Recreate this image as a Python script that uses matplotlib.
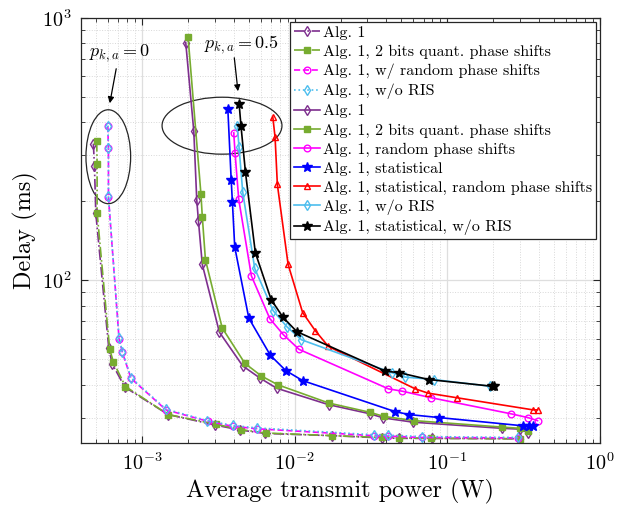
import matplotlib
matplotlib.use("Agg")
import matplotlib.pyplot as plt
from matplotlib.patches import Ellipse
from matplotlib.ticker import NullFormatter

plt.rcParams['font.family'] = ['cmr10', 'DejaVu Serif']
plt.rcParams['mathtext.fontset'] = 'cm'
plt.rcParams['axes.formatter.use_mathtext'] = True
plt.rcParams['axes.unicode_minus'] = False

# ---------------- data (p_{k,a} = 0, dashed) ----------------
p0_alg1_x = [4.82e-4, 4.9e-4, 5.0e-4, 6.08e-4, 6.4e-4, 7.74e-4, 1.49e-3, 3.02e-3, 4.4e-3, 6.42e-3, 0.0175, 0.0373, 0.0486, 0.0792, 0.30]
p0_alg1_y = [332, 272, 180, 55.2, 48.1, 39.2, 30.8, 28.1, 26.9, 26.1, 25.6, 25.1, 25.0, 25.0, 24.9]
p0_q2_x = [5.07e-4, 5.1e-4, 5.1e-4, 6.16e-4, 6.52e-4, 7.82e-4, 1.49e-3, 3.05e-3, 4.45e-3, 6.46e-3, 0.0176, 0.0372, 0.0483, 0.0783, 0.301]
p0_q2_y = [340, 277, 181, 54.8, 48.8, 39.4, 30.8, 28.3, 27.0, 26.2, 25.6, 25.2, 25.1, 25.0, 24.9]
p0_rand_x = [5.99e-4, 6.05e-4, 6.05e-4, 7.1e-4, 7.46e-4, 8.5e-4, 1.44e-3, 2.73e-3, 3.95e-3, 5.66e-3, 0.0329, 0.0412, 0.0683, 0.292]
p0_rand_y = [387, 319, 208, 59.9, 53.2, 42.3, 32.1, 29.0, 27.8, 27.2, 25.6, 25.5, 25.2, 25.1]
p0_noris_x = [6.0e-4, 6.05e-4, 6.05e-4, 7.1e-4, 7.46e-4, 8.5e-4, 1.44e-3, 2.69e-3, 3.95e-3, 5.66e-3, 0.0329, 0.0412, 0.0683, 0.292]
p0_noris_y = [389, 320, 209, 60.2, 53.5, 42.6, 32.3, 29.2, 28.0, 27.4, 25.8, 25.7, 25.4, 25.2]

# ---------------- data (p_{k,a} = 0.5, solid) ----------------
alg1_x = [1.94e-3, 2.19e-3, 2.29e-3, 2.35e-3, 2.49e-3, 3.22e-3, 4.58e-3, 5.95e-3, 7.65e-3, 0.0167, 0.0313, 0.0382, 0.0601, 0.228, 0.30, 0.337]
alg1_y = [806, 371, 203, 168, 115, 63.5, 47.2, 42.4, 38.8, 33.6, 31.0, 29.9, 28.8, 27.3, 27.1, 26.3]
q2_x = [2.01e-3, 2.44e-3, 2.49e-3, 2.61e-3, 3.36e-3, 4.73e-3, 6.07e-3, 7.78e-3, 0.0167, 0.0313, 0.0385, 0.061, 0.228, 0.30, 0.34]
q2_y = [844, 213, 175, 120, 65.9, 48.3, 43.2, 40.0, 34.1, 31.4, 30.3, 29.2, 27.6, 27.3, 26.6]
rand_x = [4.0e-3, 4.08e-3, 4.31e-3, 5.22e-3, 6.89e-3, 8.45e-3, 0.0107, 0.0412, 0.0509, 0.0785, 0.262, 0.337, 0.39]
rand_y = [365, 306, 204, 104, 71.5, 62.1, 54.6, 38.6, 37.8, 35.7, 31.0, 30.0, 29.2]
stat_x = [3.66e-3, 3.85e-3, 3.92e-3, 4.06e-3, 5.02e-3, 6.95e-3, 8.77e-3, 0.0113, 0.0456, 0.0563, 0.0885, 0.315, 0.341, 0.366]
stat_y = [449, 241, 199, 134, 71.8, 51.8, 45.3, 41.5, 31.6, 30.8, 30.0, 27.9, 27.9, 27.9]
stat_rand_x = [7.21e-3, 7.46e-3, 7.72e-3, 9.08e-3, 0.0113, 0.01365, 0.01667, 0.0617, 0.0746, 0.1156, 0.364, 0.39]
stat_rand_y = [419, 351, 232, 115, 75.4, 64.4, 56.0, 38.6, 37.2, 35.7, 32.1, 32.1]
noris_x = [4.22e-3, 4.33e-3, 4.58e-3, 5.49e-3, 7.24e-3, 8.95e-3, 0.0111, 0.0433, 0.053, 0.0813, 0.19]
noris_y = [389, 323, 217, 111, 76.7, 66.4, 59.4, 44.5, 42.8, 41.9, 39.5]
stat_noris_x = [4.34e-3, 4.46e-3, 4.77e-3, 5.54e-3, 7.03e-3, 8.41e-3, 0.01035, 0.0392, 0.0484, 0.0754, 0.196, 0.201]
stat_noris_y = [470, 389, 259, 127.5, 84.5, 72.3, 63.8, 45.1, 44.5, 41.9, 39.5, 39.5]

labels = ["Alg. 1", "Alg. 1, 2 bits quant. phase shifts", "Alg. 1, w/ random phase shifts",
          "Alg. 1, w/o RIS", "Alg. 1", "Alg. 1, 2 bits quant. phase shifts",
          "Alg. 1, random phase shifts", "Alg. 1, statistical",
          "Alg. 1, statistical, random phase shifts", "Alg. 1, w/o RIS",
          "Alg. 1, statistical, w/o RIS"]

PURPLE = '#7E2F8E'
GREEN = '#77AC30'
MAGENTA = '#FF00FF'
LBLUE = '#4DBEEE'
BLUE = '#0000FF'
RED = '#FF0000'
BLACK = '#000000'

fig = plt.figure(figsize=(6.31, 5.08), dpi=100)
ax = fig.add_axes([81/631, 1-443/508, 519/631, 425/508])

lw = 1.2
ms = 4.8
ax.plot(p0_alg1_x, p0_alg1_y, '-.', color=PURPLE, marker='d', ms=ms, mfc='none', lw=lw, label=labels[0])
ax.plot(p0_q2_x, p0_q2_y, '-.', color=GREEN, marker='s', ms=3.8, mfc=GREEN, lw=lw, label=labels[1])
ax.plot(p0_rand_x, p0_rand_y, '--', color=MAGENTA, marker='o', ms=ms, mfc='none', lw=lw, label=labels[2])
ax.plot(p0_noris_x, p0_noris_y, ':', color=LBLUE, marker='d', ms=ms, mfc='none', lw=lw, label=labels[3])
ax.plot(alg1_x, alg1_y, '-', color=PURPLE, marker='d', ms=ms, mfc='none', lw=lw, label=labels[4])
ax.plot(q2_x, q2_y, '-', color=GREEN, marker='s', ms=3.8, mfc=GREEN, lw=lw, label=labels[5])
ax.plot(rand_x, rand_y, '-', color=MAGENTA, marker='o', ms=ms, mfc='none', lw=lw, label=labels[6])
ax.plot(stat_x, stat_y, '-', color=BLUE, marker='*', ms=7, mfc=BLUE, lw=lw, label=labels[7])
ax.plot(stat_rand_x, stat_rand_y, '-', color=RED, marker='^', ms=ms, mfc='none', lw=lw, label=labels[8])
ax.plot(noris_x, noris_y, '-', color=LBLUE, marker='d', ms=ms, mfc='none', lw=lw, label=labels[9])
ax.plot(stat_noris_x, stat_noris_y, '-', color=BLACK, marker='*', ms=7, mfc=BLACK, lw=lw, label=labels[10])

ax.set_xscale('log')
ax.set_yscale('log')
ax.set_xlim(4e-4, 1)
ax.set_ylim(24, 1000)
ax.yaxis.set_minor_formatter(NullFormatter())
ax.xaxis.set_minor_formatter(NullFormatter())

ax.grid(True, which='major', color='#dedede', lw=0.9, ls='-')
ax.grid(True, which='minor', color='#d8d8d8', lw=0.7, ls=':')
ax.set_axisbelow(True)
ax.tick_params(which='both', direction='in', top=True, right=True, colors='#262626', labelcolor='black')
ax.tick_params(which='major', length=5, width=0.8, labelsize=14.5)
ax.tick_params(axis='x', which='major', pad=7)
ax.tick_params(axis='y', which='major', pad=7)
ax.tick_params(which='minor', length=3, width=0.6)
for s in ax.spines.values():
    s.set_color('#262626')
    s.set_linewidth(0.9)

ax.set_xlabel('Average transmit power (W)', fontsize=17.5, labelpad=3)
ax.set_ylabel('Delay (ms)', fontsize=17.5, labelpad=3)

leg = ax.legend(loc='upper right', bbox_to_anchor=(0.9923, 0.9913), borderaxespad=0,
                fontsize=11.5, handlelength=1.6, handletextpad=0.2, labelspacing=0.3,
                borderpad=0.25, fancybox=False, framealpha=1, edgecolor='#262626')
leg.get_frame().set_linewidth(0.9)

# annotations
ax.add_patch(Ellipse((0.0526, 0.6736), 0.0861, 0.221, transform=ax.transAxes,
                     fill=False, ec='#262626', lw=0.9))
ax.add_patch(Ellipse((0.2717, 0.7466), 0.231, 0.134, transform=ax.transAxes,
                     fill=False, ec='#262626', lw=0.9))
ax.annotate('', xy=(0.0545, 0.793), xytext=(0.0688, 0.887), xycoords='axes fraction',
            arrowprops=dict(arrowstyle='-|>', color='black', lw=0.9, mutation_scale=9))
ax.annotate('', xy=(0.303, 0.8212), xytext=(0.2948, 0.9129), xycoords='axes fraction',
            arrowprops=dict(arrowstyle='-|>', color='black', lw=0.9, mutation_scale=9))
ax.text(0.073, 0.918, r'$p_{k,a} = 0$', transform=ax.transAxes, fontsize=13, ha='center', va='center')
ax.text(0.308, 0.936, r'$p_{k,a} = 0.5$', transform=ax.transAxes, fontsize=13, ha='center', va='center')

fig.savefig('out.png', dpi=100)
